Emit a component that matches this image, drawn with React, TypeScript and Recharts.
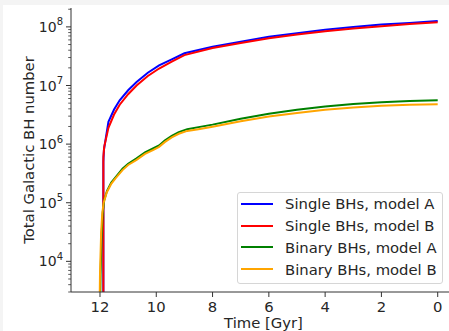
import React from "react";
import { Legend, Line, LineChart, XAxis, YAxis } from "recharts";

// time in Gyr (lookback), values = number of BHs
const singleATime = [11.88, 11.88, 11.86, 11.7, 11.5, 11.3, 11.0, 10.7, 10.3, 9.9, 9.45, 9.0, 8, 7, 6, 5, 4, 3, 2, 1, 0];
const singleAValues = [1e3, 5e5, 8e5, 2.4e6, 3.9e6, 5.6e6, 8.3e6, 1.15e7, 1.65e7, 2.2e7, 2.8e7, 3.55e7, 4.6e7, 5.6e7, 6.8e7, 7.8e7, 8.9e7, 1.0e8, 1.1e8, 1.17e8, 1.26e8];

const singleBTime = [11.88, 11.88, 11.85, 11.7, 11.5, 11.3, 11.0, 10.7, 10.3, 9.9, 9.45, 9.0, 8, 7, 6, 5, 4, 3, 2, 1, 0];
const singleBValues = [1e3, 6e5, 9e5, 1.9e6, 3.2e6, 4.7e6, 7.1e6, 1.0e7, 1.45e7, 1.95e7, 2.55e7, 3.3e7, 4.35e7, 5.3e7, 6.4e7, 7.4e7, 8.4e7, 9.4e7, 1.03e8, 1.12e8, 1.2e8];

const binaryATime = [12.0, 11.98, 11.94, 11.9, 11.85, 11.75, 11.6, 11.45, 11.2, 11.0, 10.7, 10.4, 10.1, 9.9, 9.7, 9.45, 9.2, 8.9, 8.5, 8, 7, 6, 5, 4, 3, 2, 1, 0];
const binaryAValues = [1e3, 6e3, 3e4, 7e4, 1.1e5, 1.6e5, 2.2e5, 2.7e5, 3.8e5, 4.6e5, 5.7e5, 7.2e5, 8.5e5, 9.5e5, 1.15e6, 1.38e6, 1.6e6, 1.8e6, 1.95e6, 2.15e6, 2.7e6, 3.3e6, 3.85e6, 4.4e6, 4.85e6, 5.2e6, 5.45e6, 5.6e6];

const binaryBTime = [12.02, 12.0, 11.96, 11.92, 11.87, 11.76, 11.6, 11.45, 11.2, 11.0, 10.7, 10.4, 10.1, 9.9, 9.7, 9.45, 9.2, 8.9, 8.5, 8, 7, 6, 5, 4, 3, 2, 1, 0];
const binaryBValues = [1e3, 6e3, 3e4, 6.5e4, 1.0e5, 1.5e5, 2.1e5, 2.6e5, 3.6e5, 4.4e5, 5.4e5, 6.8e5, 8.0e5, 9.0e5, 1.08e6, 1.3e6, 1.5e6, 1.68e6, 1.8e6, 1.98e6, 2.45e6, 2.95e6, 3.4e6, 3.85e6, 4.2e6, 4.5e6, 4.7e6, 4.8e6];

const xTicks = [0, 2, 4, 6, 8, 10, 12];
const yMajor = [1e4, 1e5, 1e6, 1e7, 1e8];
const yMinorMult = [2, 3, 4, 5, 6, 7, 8, 9];

const seriesNames = ["Single BHs, model A", "Single BHs, model B", "Binary BHs, model A", "Binary BHs, model B"];
const seriesColors = ["#0000ff", "#ff0000", "#008000", "#ffa500"];

const X_DOMAIN = [-0.65, 13.03];
const Y_DOMAIN = [3000, 2.1e8];
const FONT = "DejaVu Sans, sans-serif";
const FS = 14.8;
const INK = "#262626";
const AXIS = "#333";

const zip = (t: number[], v: number[]) => t.map((x, i) => ({ t: x, v: v[i] }));
const series = [
  zip(singleATime, singleAValues),
  zip(singleBTime, singleBValues),
  zip(binaryATime, binaryAValues),
  zip(binaryBTime, binaryBValues),
];

const yTicks: number[] = [];
[1e3, 1e4, 1e5, 1e6, 1e7, 1e8].forEach(d => {
  yTicks.push(d);
  yMinorMult.forEach(m => yTicks.push(d * m));
});
const yTicksIn = yTicks.filter(v => v >= Y_DOMAIN[0] && v <= Y_DOMAIN[1]);

function YTick(props: any) {
  const { x, y, payload } = props;
  const v = payload.value;
  const major = yMajor.includes(v);
  const len = major ? 5 : 2.8;
  return (
    <g>
      <line x1={x} x2={x - len} y1={y} y2={y} stroke={AXIS} strokeWidth={major ? 1 : 0.8} />
      {major && (
        <text x={x - 8} y={y + 5} textAnchor="end" fontFamily={FONT} fontSize={14} fill={INK}>
          10
          <tspan dy={-6.5} fontSize={10}>{Math.round(Math.log10(v))}</tspan>
        </text>
      )}
    </g>
  );
}

function YLabel(props: any) {
  const { x, y, height } = props.viewBox;
  const cx = x + 20;
  const cy = y + height / 2;
  return (
    <text x={cx} y={cy} transform={`rotate(-90 ${cx} ${cy})`} textAnchor="middle" dominantBaseline="central"
      fontFamily={FONT} fontSize={FS} fill={INK}>
      Total Galactic BH number
    </text>
  );
}

function LegendBox() {
  return (
    <div style={{
      border: "1px solid #d6d6d6", borderRadius: 3, background: "rgba(255,255,255,0.85)",
      paddingBottom: 3, fontFamily: FONT, fontSize: FS, color: INK, boxSizing: "border-box",
    }}>
      {seriesNames.map((n, i) => (
        <div key={n} style={{ height: 21.8, display: "flex", alignItems: "center" }}>
          <span style={{ display: "inline-block", width: 32, height: 2, background: seriesColors[i], marginLeft: 3, marginRight: 12 }} />
          <span style={{ whiteSpace: "nowrap" }}>{n}</span>
        </div>
      ))}
    </div>
  );
}

export default function App() {
  return (
    <div style={{
      position: "absolute", left: 0, top: 0, width: 449, height: 331, overflow: "hidden",
      background: "#fff", boxShadow: "inset 3px 5px 0 #f4f4f4",
    }}>
      <LineChart width={470} height={331} margin={{ top: 8, right: 14, bottom: 0, left: 8 }}>
        <XAxis
          xAxisId={0}
          type="number"
          dataKey="t"
          domain={X_DOMAIN}
          reversed
          allowDataOverflow
          ticks={xTicks}
          height={39}
          tickSize={5}
          tickMargin={4}
          stroke={AXIS}
          tick={{ fontFamily: FONT, fontSize: FS, fill: INK }}
          label={{ value: "Time [Gyr]", position: "insideBottom", offset: 3, fontFamily: FONT, fontSize: FS, fill: INK }}
        />
        <XAxis xAxisId="top" orientation="top" type="number" dataKey="t" domain={X_DOMAIN} reversed
          allowDataOverflow height={0} tick={false} tickLine={false} stroke={AXIS} />
        <YAxis
          type="number"
          dataKey="v"
          scale="log"
          domain={Y_DOMAIN}
          allowDataOverflow
          ticks={yTicksIn}
          interval={0}
          width={63}
          tickSize={0}
          tickMargin={0}
          tickLine={false}
          stroke={AXIS}
          tick={<YTick />}
          label={<YLabel />}
        />
        <Legend
          layout="vertical"
          align="center"
          verticalAlign="middle"
          wrapperStyle={{ left: 237, top: 192, width: 206 }}
          content={<LegendBox />}
        />
        {series.map((d, i) => (
          <Line
            key={seriesNames[i]}
            data={d}
            dataKey="v"
            name={seriesNames[i]}
            type="linear"
            stroke={seriesColors[i]}
            strokeWidth={2}
            dot={false}
            isAnimationActive={false}
          />
        ))}
      </LineChart>
    </div>
  );
}
